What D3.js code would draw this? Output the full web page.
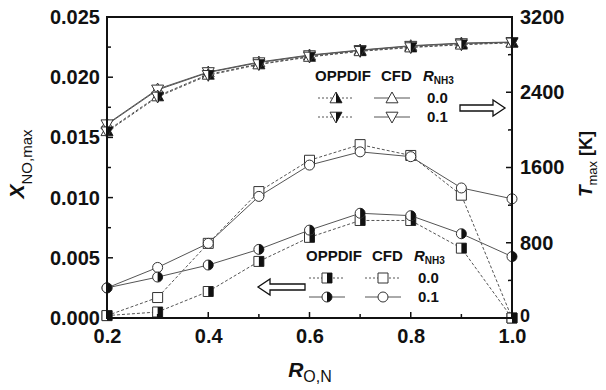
<!DOCTYPE html>
<html><head><meta charset="utf-8">
<script src="https://cdn.jsdelivr.net/npm/d3@7"></script>
<style>body{margin:0;background:#fff}text{font-family:"Liberation Sans",Arial,sans-serif}</style>
</head><body>
<svg id="c" width="606" height="390"></svg>
<script>
const xVals = [0.2,0.3,0.4,0.5,0.6,0.7,0.8,0.9,1.0];
// Temperature (right axis, K)
const T_opp_00 = [1990,2360,2590,2700,2780,2840,2880,2910,2930];
const T_opp_01 = [1980,2350,2580,2695,2775,2835,2875,2905,2925];
const T_cfd_00 = [2062,2434,2615,2721,2796,2849,2895,2923,2934];
const T_cfd_01 = [2055,2425,2610,2715,2790,2845,2890,2918,2930];
// NO mole fraction (left axis)
const NO_opp_00 = [0.0002,0.0005,0.0022,0.0047,0.0067,0.0081,0.0081,0.0058,0.0000];
const NO_opp_01 = [0.0025,0.0034,0.0044,0.0057,0.0073,0.0087,0.0085,0.0070,0.0051];
const NO_cfd_00 = [0.0002,0.0017,0.0062,0.0105,0.0131,0.0144,0.0135,0.0102,0.0000];
const NO_cfd_01 = [0.0025,0.0042,0.0062,0.0101,0.0127,0.0138,0.0134,0.0108,0.0099];
const xTicks = [0.2,0.4,0.6,0.8,1.0];
const yLeftTicks = [0,0.005,0.010,0.015,0.020,0.025];
const yRightTicks = [0,800,1600,2400,3200];

const svg = d3.select("#c");
const L=107,R=512,T=17,B=318;
const x = d3.scaleLinear().domain([0.2,1.0]).range([L,R]);
const yL = d3.scaleLinear().domain([0,0.025]).range([B,T]);
const yR = d3.scaleLinear().domain([0,3200]).range([B,T]);

const lineCol="#555";
function drawLine(vals, sc, dashed){
  const g = d3.line().x((d,i)=>x(xVals[i])).y(d=>sc(d));
  svg.append("path").attr("d",g(vals)).attr("fill","none").attr("stroke",lineCol)
    .attr("stroke-width",1).attr("stroke-dasharray",dashed?"3,2":null);
}
function marker(g, shape, half){
  const s=5;
  let full, right;
  if(shape==="sq"){ full=`M${-s},${-s}H${s}V${s}H${-s}Z`; right=`M0,${-s}H${s}V${s}H0Z`; }
  if(shape==="ci"){ full=`M${-s},0A${s},${s} 0 1,1 ${s},0A${s},${s} 0 1,1 ${-s},0Z`; right=`M0,${-s}A${s},${s} 0 0,1 0,${s}Z`; }
  if(shape==="tu"){ const h=6; full=`M0,${-h}L${h},${h*0.8}L${-h},${h*0.8}Z`; right=`M0,${-h}L${h},${h*0.8}L0,${h*0.8}Z`; }
  if(shape==="td"){ const h=6; full=`M0,${h}L${h},${-h*0.8}L${-h},${-h*0.8}Z`; right=`M0,${h}L${h},${-h*0.8}L0,${-h*0.8}Z`; }
  g.append("path").attr("d",full).attr("fill","#fff").attr("stroke","#333").attr("stroke-width",1);
  if(half) g.append("path").attr("d",right).attr("fill","#111");
}
function drawMarkers(vals, sc, shape, half){
  vals.forEach((v,i)=>{
    const g=svg.append("g").attr("transform",`translate(${x(xVals[i])},${sc(v)})`);
    marker(g,shape,half);
  });
}
// series
drawLine(NO_cfd_00,yL,true); drawLine(NO_cfd_01,yL,false);
drawLine(NO_opp_00,yL,true); drawLine(NO_opp_01,yL,false);
drawLine(T_opp_00,yR,true); drawLine(T_opp_01,yR,true);
drawLine(T_cfd_00,yR,false); drawLine(T_cfd_01,yR,false);
drawMarkers(NO_cfd_00,yL,"sq",false); drawMarkers(NO_cfd_01,yL,"ci",false);
drawMarkers(NO_opp_00,yL,"sq",true); drawMarkers(NO_opp_01,yL,"ci",true);
drawMarkers(T_cfd_00,yR,"tu",false); drawMarkers(T_cfd_01,yR,"td",false);
drawMarkers(T_opp_00,yR,"tu",true); drawMarkers(T_opp_01,yR,"td",true);

// axes
const fontTick="bold 20px 'Liberation Sans', Arial";
const axL = d3.axisLeft(yL).tickValues(yLeftTicks).tickFormat(d3.format(".3f")).tickSize(0).tickPadding(7);
const gL = svg.append("g").attr("transform",`translate(${L},0)`).call(axL);
const axR = d3.axisRight(yR).tickValues(yRightTicks).tickFormat(d3.format("d")).tickSize(0).tickPadding(8);
const gR = svg.append("g").attr("transform",`translate(${R},0)`).call(axR);
const axB = d3.axisBottom(x).tickValues(xTicks).tickFormat(d3.format(".1f")).tickSize(0).tickPadding(9);
const gB = svg.append("g").attr("transform",`translate(0,${B})`).call(axB);
[gL,gR,gB].forEach(g=>{g.select(".domain").remove(); g.selectAll("text").style("font",fontTick).attr("fill","#111");});
gB.selectAll("text").attr("y",25).attr("dy",0);
// keep the right-axis "0" clear of the bottom "1.0"
gR.selectAll("text").filter(d=>d===0).style("font-size","18px").attr("dy",0).attr("y",3);
// inward ticks
const tk = svg.append("g").attr("stroke","#111").attr("stroke-width",1.5);
d3.range(0,0.02501,0.0025).forEach((v,i)=>{const len=i%2===0?6:4; tk.append("line").attr("x1",L).attr("x2",L+len).attr("y1",yL(v)).attr("y2",yL(v));});
d3.range(0,3201,400).forEach((v,i)=>{const len=i%2===0?6:4; tk.append("line").attr("x1",R).attr("x2",R-len).attr("y1",yR(v)).attr("y2",yR(v));});
d3.range(0.2,1.0001,0.1).forEach((v,i)=>{const len=i%2===0?6:4; tk.append("line").attr("x1",x(v)).attr("x2",x(v)).attr("y1",B).attr("y2",B-len);});
svg.append("rect").attr("x",L).attr("y",T).attr("width",R-L).attr("height",B-T).attr("fill","none").attr("stroke","#111").attr("stroke-width",2);

// axis titles
const yt = svg.append("text").attr("transform","translate(24,164) rotate(-90)").attr("text-anchor","middle")
  .style("font-weight","bold").attr("fill","#111");
yt.append("tspan").text("X").style("font-style","italic").style("font-size","21px");
yt.append("tspan").text("NO,max").style("font-size","15px").style("font-weight","normal").attr("dy","8");
const rt = svg.append("text").attr("transform","translate(592,164) rotate(-90)").attr("text-anchor","middle")
  .style("font-weight","bold").attr("fill","#111");
rt.append("tspan").text("T").style("font-style","italic").style("font-size","19px");
rt.append("tspan").text("max").style("font-size","13px").style("font-weight","normal").attr("dy","5");
rt.append("tspan").text(" [K]").style("font-size","18px").attr("dy","-5");
const bt = svg.append("text").attr("x",310).attr("y",377).attr("text-anchor","middle").style("font-weight","bold").attr("fill","#111");
bt.append("tspan").text("R").style("font-style","italic").style("font-size","21px");
bt.append("tspan").text("O,N").style("font-size","16px").style("font-weight","normal").attr("dy","5");

// legends
function legend(ox, oy, shapes, dashes, labels){
  const hdr = svg.append("g").attr("fill","#111");
  hdr.append("text").attr("x",ox).attr("y",oy).text("OPPDIF").style("font-size","15px").style("font-weight","bold");
  hdr.append("text").attr("x",ox+66).attr("y",oy).text("CFD").style("font-size","15px").style("font-weight","bold");
  const rn = svg.append("text").attr("x",ox+108).attr("y",oy).attr("fill","#111").style("font-weight","bold");
  rn.append("tspan").text("R").style("font-style","italic").style("font-size","15px");
  rn.append("tspan").text("NH3").style("font-size","10px").attr("dy","3");
  [0,1].forEach(r=>{
    const yy = oy+17+r*19;
    [[0,true],[1,false]].forEach(([c,half])=>{
      const cx = ox+(c===0?21:77);
      const dashed = dashes[r][c];
      svg.append("line").attr("x1",cx-18).attr("x2",cx+18).attr("y1",yy).attr("y2",yy).attr("stroke",lineCol).attr("stroke-width",1).attr("stroke-dasharray",dashed?"2,2":null);
      const g=svg.append("g").attr("transform",`translate(${cx},${yy})`);
      marker(g,shapes[r],half);
    });
    svg.append("text").attr("x",ox+112).attr("y",yy+5).text(labels[r]).attr("fill","#111").style("font-weight","bold").style("font-size","15px");
  });
}
legend(315,81,["tu","td"],[[true,false],[true,false]],["0.0","0.1"]);
legend(306,261,["sq","ci"],[[true,true],[false,false]],["0.0","0.1"]);

// arrows
function arrow(x0,x1,y){
  const dir = x1>x0?1:-1, hw=3, hh=8, hl=12;
  const xb = x1-dir*hl;
  const p = `M${x0},${y-hw}L${xb},${y-hw}L${xb},${y-hh}L${x1},${y}L${xb},${y+hh}L${xb},${y+hw}L${x0},${y+hw}Z`;
  svg.append("path").attr("d",p).attr("fill","#fff").attr("stroke","#111").attr("stroke-width",1.3);
}
arrow(460,505,108);
arrow(305,258,287);
</script>
</body></html>
